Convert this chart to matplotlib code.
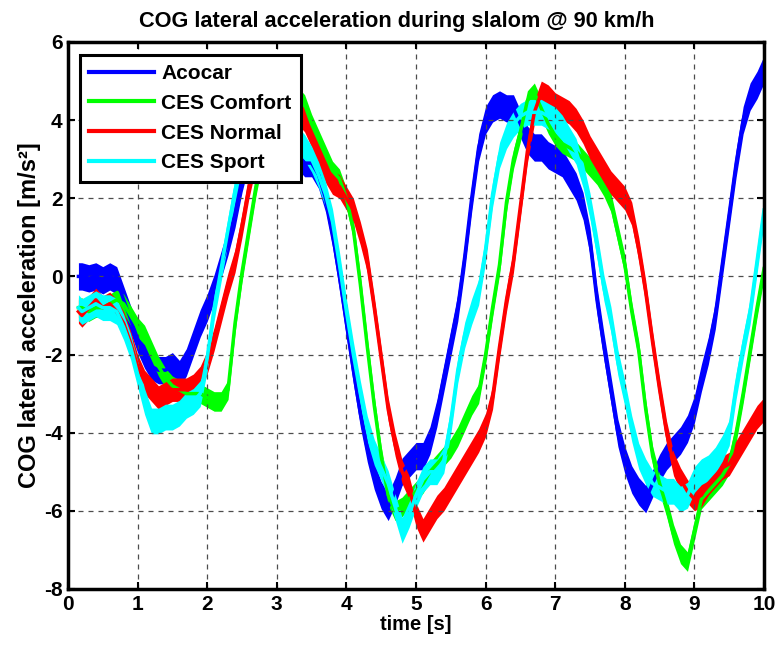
import matplotlib
matplotlib.use("Agg")
import matplotlib.pyplot as plt
import numpy as np

plt.rcParams['font.family'] = ['Liberation Sans', 'DejaVu Sans']
plt.rcParams['font.weight'] = 'bold'
plt.rcParams['axes.unicode_minus'] = False

# ---- data ----
time_s = [0.15] + [round(0.2 + 0.1 * i, 1) for i in range(99)]

acocar = [0.0, 0.0, -0.05, 0.0, -0.1, 0.0, -0.1, -0.6, -1.1, -1.6,
          -2.0, -2.3, -2.4, -2.4, -2.3, -2.5, -2.2, -1.7, -1.2, -0.8,
          -0.3, 0.3, 0.9, 1.6, 2.5, 3.2, 3.7, 4.0, 4.1, 4.0,
          3.8, 3.5, 3.1, 2.9, 2.9, 2.6, 2.0, 1.1, 0.0, -1.2,
          -2.4, -3.5, -4.4, -5.1, -5.6, -5.9, -5.5, -5.0, -4.8, -4.6,
          -4.6, -4.2, -3.5, -2.6, -1.7, -0.8, 0.5, 2.0, 3.3, 4.0,
          4.3, 4.4, 4.3, 4.3, 3.9, 3.5, 3.3, 3.3, 3.1, 3.0,
          2.9, 2.6, 2.3, 1.8, 0.9, -0.6, -1.8, -2.9, -4.0, -4.7,
          -5.2, -5.5, -5.7, -5.3, -4.9, -4.6, -4.4, -4.2, -3.9, -3.4,
          -2.6, -1.9, -1.0, 0.3, 1.6, 2.9, 4.0, 4.6, 4.9, 5.3]

ces_comfort = [-0.8, -0.8, -0.9, -0.8, -0.8, -0.7, -0.6, -0.7, -1.0, -1.3,
               -1.5, -1.9, -2.3, -2.6, -2.8, -2.9, -3.0, -3.0, -3.0, -3.1,
               -3.2, -3.2, -2.9, -1.2, 0.1, 1.2, 2.3, 3.2, 3.8, 4.2,
               4.5, 4.6, 4.6, 4.4, 3.9, 3.5, 3.1, 2.7, 2.5, 2.0,
               1.2, -0.2, -1.8, -3.3, -4.6, -5.6, -6.0, -5.9, -5.7, -5.5,
               -5.3, -5.0, -4.8, -4.6, -4.4, -4.1, -3.7, -3.3, -3.0, -2.0,
               -0.8, 0.3, 1.9, 3.0, 3.7, 4.5, 4.7, 4.3, 3.9, 3.6,
               3.4, 3.3, 3.2, 3.0, 2.8, 2.6, 2.3, 1.9, 1.1, 0.3,
               -0.9, -1.9, -3.4, -4.6, -5.3, -5.9, -6.6, -7.1, -7.3, -6.5,
               -5.7, -5.5, -5.3, -5.1, -4.8, -4.0, -3.0, -1.9, -0.8, 0.2]

ces_normal = [-0.9, -1.0, -0.8, -0.6, -0.8, -0.7, -0.9, -1.2, -1.7, -2.3,
              -2.7, -2.9, -3.1, -3.0, -2.9, -2.9, -2.9, -2.8, -2.6, -2.2,
              -1.6, -0.9, -0.2, 0.4, 1.3, 2.3, 3.1, 3.7, 4.1, 4.3,
              4.4, 4.3, 4.2, 4.0, 3.6, 3.1, 2.7, 2.4, 2.3, 2.0,
              1.7, 1.1, 0.4, -0.8, -2.1, -3.4, -4.3, -5.0, -5.4, -6.1,
              -6.5, -6.2, -5.9, -5.7, -5.4, -5.1, -4.8, -4.5, -4.2, -3.8,
              -3.1, -1.8, -0.6, 0.4, 1.8, 3.2, 4.2, 4.7, 4.6, 4.4,
              4.3, 4.2, 4.0, 3.7, 3.3, 3.0, 2.7, 2.4, 2.2, 2.0,
              1.6, 0.7, -0.4, -1.7, -2.9, -4.0, -4.8, -5.2, -5.5, -5.7,
              -5.6, -5.3, -5.1, -4.9, -4.8, -4.5, -4.2, -3.9, -3.6, -3.4]

ces_sport = [-0.8, -0.9, -0.8, -0.7, -0.8, -0.8, -0.9, -1.3, -1.8, -2.5,
             -3.2, -3.7, -3.7, -3.6, -3.6, -3.5, -3.3, -3.2, -3.0, -2.1,
             -0.8, 0.2, 1.2, 2.2, 2.9, 3.4, 3.7, 3.9, 4.0, 4.0,
             3.9, 3.7, 3.5, 3.3, 3.0, 2.6, 2.1, 1.4, 0.3, -0.9,
             -2.0, -3.0, -3.9, -4.5, -4.9, -5.3, -5.9, -6.5, -6.1, -5.6,
             -5.2, -5.0, -5.0, -4.7, -3.7, -2.4, -1.5, -0.9, -0.4, 0.7,
             2.1, 3.1, 3.6, 3.9, 4.1, 4.2, 4.2, 4.2, 4.1, 4.0,
             3.8, 3.5, 3.2, 2.6, 1.8, 0.8, -0.3, -1.1, -2.2, -3.0,
             -3.9, -4.6, -5.0, -5.3, -5.4, -5.5, -5.5, -5.7, -5.6, -5.2,
             -5.0, -4.9, -4.7, -4.4, -4.0, -2.8, -1.8, -0.9, 0.4, 1.7]

series_names = ['Acocar', 'CES Comfort', 'CES Normal', 'CES Sport']
series_values = [acocar, ces_comfort, ces_normal, ces_sport]
noise_halfwidth = [0.35, 0.25, 0.3, 0.33]
colors = ['#0000ff', '#00ff00', '#ff0000', '#00ffff']

x_ticks = list(range(0, 11))
y_ticks = list(range(-8, 7, 2))

# ---- figure ----
fig = plt.figure(figsize=(7.77, 6.49), dpi=100)
ax = fig.add_axes([0.0875, 0.0925, 0.8958, 0.8428])

t = np.array(time_s)
for name, vals, hw, c in zip(series_names, series_values, noise_halfwidth, colors):
    v = np.array(vals)
    ax.fill_between(t, v - hw, v + hw, color=c, lw=0)
    ax.plot(t, v, color=c, lw=2.5, label=name)

ax.set_xlim(0, 10)
ax.set_ylim(-8, 6)
ax.set_xticks(x_ticks)
ax.set_yticks(y_ticks)
ax.grid(True, color='0.3', linestyle=(0, (4, 4)), linewidth=0.9)
ax.tick_params(direction='in', top=True, right=True, length=5, width=1.5,
               labelsize=15, pad=4)
for lab in ax.get_xticklabels() + ax.get_yticklabels():
    lab.set_fontweight('bold')
for s in ax.spines.values():
    s.set_linewidth(2.5)

ax.set_title('COG lateral acceleration during slalom @ 90 km/h',
             fontsize=15.7, fontweight='bold', pad=11, x=0.473)
ax.set_xlabel('time [s]', fontsize=14.5, fontweight='bold', labelpad=1)
ax.set_ylabel('COG lateral acceleration [m/s²]', fontsize=17,
              fontweight='bold', labelpad=2)

leg = ax.legend(loc='upper left', bbox_to_anchor=(0.017, 0.977),
                borderaxespad=0, fancybox=False, framealpha=1,
                edgecolor='black', handlelength=3.1, labelspacing=0.52,
                handletextpad=0.35, borderpad=0.45,
                prop={'size': 15, 'weight': 'bold'})
leg.get_frame().set_linewidth(2.2)
for line in leg.get_lines():
    line.set_linewidth(3)

fig.savefig('out.png', dpi=100)
